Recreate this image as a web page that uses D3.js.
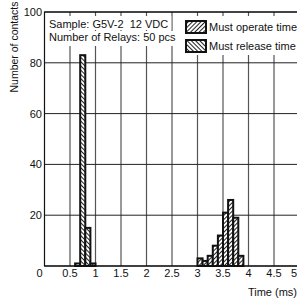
<!DOCTYPE html>
<html>
<head>
<meta charset="utf-8">
<script src="https://cdn.jsdelivr.net/npm/d3@7"></script>
<style>
  body { margin: 0; background: #fff; }
  svg { display: block; font-family: "Liberation Sans", Arial, sans-serif; }
  text { white-space: pre; }
</style>
</head>
<body>
<div id="chart"></div>
<script>
// data
var releaseStart = [0.6, 0.7, 0.8, 0.9];
var releaseCount = [1, 83, 15, 1];
var operateStart = [3.0, 3.1, 3.2, 3.3, 3.4, 3.5, 3.6, 3.7, 3.8];
var operateCount = [3, 2, 4, 8, 12, 21, 26, 19, 4];
var binWidth = 0.1;
var xTicks = [0, 0.5, 1, 1.5, 2, 2.5, 3, 3.5, 4, 4.5, 5];
var yTicks = [0, 20, 40, 60, 80, 100];
var noteLines = ["Sample: G5V-2  12 VDC", "Number of Relays: 50 pcs"];
var legendLabels = ["Must operate time", "Must release time"];

var W = 297, H = 298;
var svg = d3.select("#chart").append("svg")
    .attr("width", W)
    .attr("height", H);

var x = d3.scaleLinear().domain([0, 5]).range([44.5, 299.5]);
var y = d3.scaleLinear().domain([0, 100]).range([266, 12]);

// hatch patterns
var defs = svg.append("defs");
function hatch(id, angle, gap) {
    var p = defs.append("pattern")
        .attr("id", id)
        .attr("patternUnits", "userSpaceOnUse")
        .attr("width", gap).attr("height", gap)
        .attr("patternTransform", "rotate(" + angle + ")");
    p.append("rect").attr("width", gap).attr("height", gap).attr("fill", "#fff");
    p.append("line")
        .attr("x1", gap / 2).attr("y1", 0)
        .attr("x2", gap / 2).attr("y2", gap)
        .attr("stroke", "#222").attr("stroke-width", 1);
}
hatch("opHatch", 45, 3);
hatch("relHatch", -45, 3);

// grid
svg.append("g").selectAll("line")
    .data(xTicks.filter(function(d) { return d > 0 && d < 5; }))
    .enter().append("line")
    .attr("x1", function(d) { return x(d); })
    .attr("x2", function(d) { return x(d); })
    .attr("y1", y(100)).attr("y2", y(0))
    .attr("stroke", "#555").attr("stroke-width", 1.2);

svg.append("g").selectAll("line")
    .data(yTicks.filter(function(d) { return d > 0; }))
    .enter().append("line")
    .attr("x1", x(0)).attr("x2", x(5))
    .attr("y1", function(d) { return y(d); })
    .attr("y2", function(d) { return y(d); })
    .attr("stroke", "#222").attr("stroke-width", 1);

// frame
svg.append("rect")
    .attr("x", x(0)).attr("y", y(100))
    .attr("width", x(5) - x(0)).attr("height", y(0) - y(100))
    .attr("fill", "none").attr("stroke", "#111").attr("stroke-width", 1.2);

// note text with white backing
var note = svg.append("g");
noteLines.forEach(function(t, i) {
    var tx = note.append("text")
        .attr("x", 49).attr("y", 28 + i * 13)
        .attr("font-size", 11).attr("fill", "#111")
        .text(t);
    var b = tx.node().getBBox();
    note.insert("rect", "text")
        .attr("x", x(0) + 1.5).attr("y", i === 0 ? 16 : b.y)
        .attr("width", b.x + b.width + 3 - x(0) - 1.5)
        .attr("height", i === 0 ? b.y + b.height - 16 : b.height + 3)
        .attr("fill", "#fff");
});

// legend
var leg = svg.append("g");
leg.append("rect")
    .attr("x", 183).attr("y", 16).attr("width", W - 183).attr("height", 39)
    .attr("fill", "#fff");
legendLabels.forEach(function(t, i) {
    leg.append("rect")
        .attr("x", 186).attr("y", 21 + i * 19)
        .attr("width", 20).attr("height", 12)
        .attr("fill", i === 0 ? "url(#opHatch)" : "url(#relHatch)")
        .attr("stroke", "#111").attr("stroke-width", 2);
    leg.append("text")
        .attr("x", 209).attr("y", 31 + i * 19)
        .attr("font-size", 11).attr("fill", "#111")
        .text(t);
});

// bars
function bars(starts, counts, fill) {
    svg.append("g").selectAll("rect")
        .data(starts.map(function(s, i) { return {s: s, c: counts[i]}; }))
        .enter().append("rect")
        .attr("x", function(d) { return x(d.s); })
        .attr("width", function(d) { return x(d.s + binWidth) - x(d.s); })
        .attr("y", function(d) { return y(d.c); })
        .attr("height", function(d) { return y(0) - y(d.c); })
        .attr("fill", fill)
        .attr("stroke", "#111").attr("stroke-width", 2);
}
bars(releaseStart, releaseCount, "url(#relHatch)");
bars(operateStart, operateCount, "url(#opHatch)");

// baseline redraw
svg.append("line")
    .attr("x1", x(0)).attr("x2", x(5))
    .attr("y1", y(0)).attr("y2", y(0))
    .attr("stroke", "#111").attr("stroke-width", 1.2);

// tick labels
svg.append("g").selectAll("text")
    .data(yTicks.filter(function(d) { return d > 0; }))
    .enter().append("text")
    .attr("x", 42).attr("y", function(d) { return y(d) + 4; })
    .attr("text-anchor", "end").attr("font-size", 11).attr("fill", "#111")
    .text(function(d) { return d; });

svg.append("g").selectAll("text")
    .data(xTicks)
    .enter().append("text")
    .attr("x", function(d) { return d === 0 ? x(d) - 5 : x(d); })
    .attr("y", 277)
    .attr("text-anchor", function(d) { return d === 5 ? "end" : "middle"; })
    .attr("font-size", 11).attr("fill", "#111")
    .text(function(d) { return d; })
    .filter(function(d) { return d === 5; })
    .attr("x", W);

// axis titles
svg.append("text")
    .attr("x", W).attr("y", 296)
    .attr("text-anchor", "end").attr("font-size", 11).attr("fill", "#111")
    .text("Time (ms)");

svg.append("text")
    .attr("transform", "translate(18,47) rotate(-90)")
    .attr("text-anchor", "middle").attr("font-size", 10.5).attr("fill", "#111")
    .text("Number of contacts");
</script>
</body>
</html>
